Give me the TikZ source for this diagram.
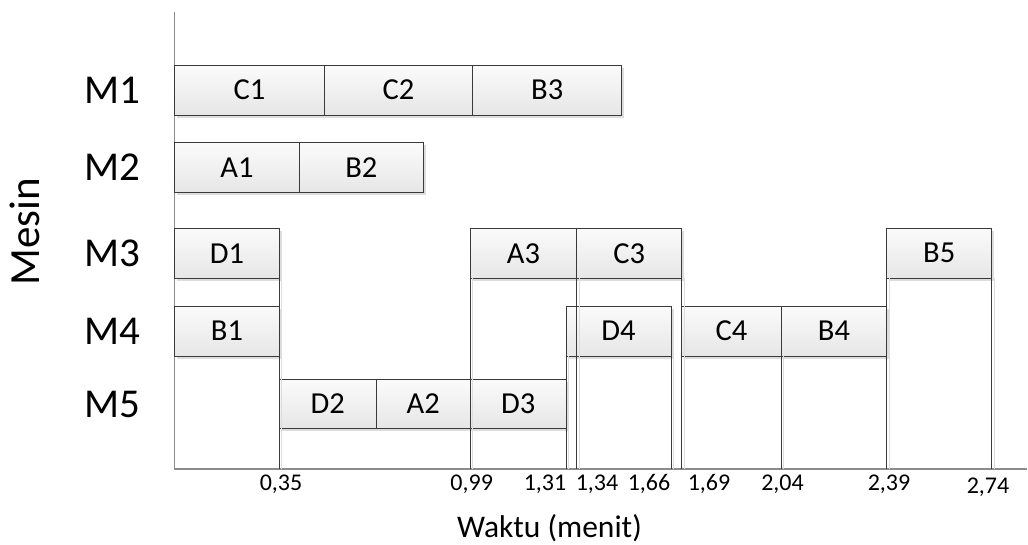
\documentclass[tikz,border=0pt]{standalone}
\usepackage{fontspec}
\setmainfont{Carlito}
\definecolor{boxline}{HTML}{3A3A3A}
\definecolor{boxtop}{HTML}{FBFBFB}
\definecolor{boxbot}{HTML}{E6E6E6}
\definecolor{shadowc}{HTML}{DDDDDD}
\definecolor{axisc}{HTML}{8C8C8C}
\newcommand\taskbox[6]{%
  \fill[tshadow] ({#2+2.5},{#3+2.5}) rectangle ({#4+2.5},{#5+2.5});
  \node[task, minimum width={#4-#2}, minimum height={#5-#3}] (#1) at ({(#2+#4)/2},{(#3+#5)/2}) {#6};}
\begin{document}
\begin{tikzpicture}[x=1pt,y=-1pt,
  task/.style={draw=boxline, line width=0.9pt, top color=boxtop, bottom color=boxbot,
    inner sep=0pt, outer sep=0pt, font=\fontsize{30.5}{31}\selectfont, text=black},
  tshadow/.style={fill=shadowc, draw=none},
  axisline/.style={draw=axisc, line width=1.4pt},
  vline/.style={draw=boxline, line width=0.9pt},
  vshadow/.style={draw=shadowc, line width=1.2pt},
  ticklab/.style={font=\fontsize{24}{25}\selectfont, anchor=base, inner sep=0pt},
  mlabel/.style={font=\fontsize{41}{41}\selectfont, inner sep=0pt}
]
\useasboundingbox (0,0) rectangle (1028,544);
% axes
\coordinate (o) at (174.7,469);
\coordinate (ytop) at (174.7,12);
\coordinate (xend) at (1027,469);
\draw[axisline] (ytop) -- (o) -- (xend);
% tick coordinates on axis
\coordinate (t1) at (279.3,469);
\coordinate (t2) at (470.3,469);
\coordinate (t3) at (566,469);
\coordinate (t4) at (576.7,469);
\coordinate (t5) at (671,469);
\coordinate (t6) at (681.7,469);
\coordinate (t7) at (781.3,469);
\coordinate (t8) at (886.7,469);
\coordinate (t9) at (991.7,469);
% M1
\taskbox{c1}{174.7}{65}{324.3}{115}{C1}
\taskbox{c2}{324.3}{65}{472.7}{115}{C2}
\taskbox{b3}{472.7}{65}{621.7}{115}{B3}
% M2
\taskbox{a1}{174.7}{142.7}{299.3}{192.7}{A1}
\taskbox{b2}{299.3}{142.7}{423.3}{192.7}{B2}
% M3
\taskbox{d1}{174.7}{228.3}{279.3}{278.3}{D1}
\taskbox{a3}{470.3}{228.3}{576.7}{278.3}{A3}
\taskbox{c3}{576.7}{228.3}{681.7}{278.3}{C3}
\taskbox{b5}{886.7}{228.3}{991.7}{278.3}{B5}
% M4
\taskbox{b1}{174.7}{306}{279.3}{356}{B1}
\taskbox{d4}{566}{306}{671}{356}{D4}
\taskbox{c4}{681.7}{306}{781.3}{356}{C4}
\taskbox{b4}{781.3}{306}{886.7}{356}{B4}
% M5
\taskbox{d2}{279.3}{379.3}{376}{428.3}{D2}
\taskbox{a2}{376}{379.3}{470.3}{428.3}{A2}
\taskbox{d3}{470.3}{379.3}{566}{428.3}{D3}
% vertical time lines (shadows first)
\foreach \n/\t in {d1.south east/t1, a3.south west/t2, d4.south west/t3, a3.south east/t4,
  d4.south east/t5, c3.south east/t6, c4.south east/t7, b5.south west/t8, b5.south east/t9}{
  \draw[vshadow] ([xshift=2.5pt]\n) -- ([xshift=2.5pt]\t);
}
\foreach \n/\t in {d1.south east/t1, a3.south west/t2, d4.south west/t3, a3.south east/t4,
  d4.south east/t5, c3.south east/t6, c4.south east/t7, b5.south west/t8, b5.south east/t9}{
  \draw[vline] (\n) -- (\t);
}
% machine labels
\node[mlabel] (m1) at (112.5,90) {M1};
\node[mlabel] (m2) at (112.5,167.5) {M2};
\node[mlabel] (m3) at (112.5,253.3) {M3};
\node[mlabel] (m4) at (112.5,331) {M4};
\node[mlabel] (m5) at (112.5,404.5) {M5};
\node[font=\fontsize{43}{43}\selectfont, rotate=90, inner sep=0pt] (ylab) at (25,232) {Mesin};
% tick labels
\node[ticklab] (l1) at (281,490) {0,35};
\node[ticklab] (l2) at (471.7,490) {0,99};
\node[ticklab] (l3) at (545,490) {1,31};
\node[ticklab] (l4) at (597,490) {1,34};
\node[ticklab] (l5) at (649,490) {1,66};
\node[ticklab] (l6) at (709,490) {1,69};
\node[ticklab] (l7) at (782.5,490) {2,04};
\node[ticklab] (l8) at (889,490) {2,39};
\node[ticklab] (l9) at (988,493) {2,74};
\node[font=\fontsize{31.5}{32}\selectfont, anchor=base, inner sep=0pt] (xlab) at (549.5,537) {Waktu (menit)};
\end{tikzpicture}
\end{document}
